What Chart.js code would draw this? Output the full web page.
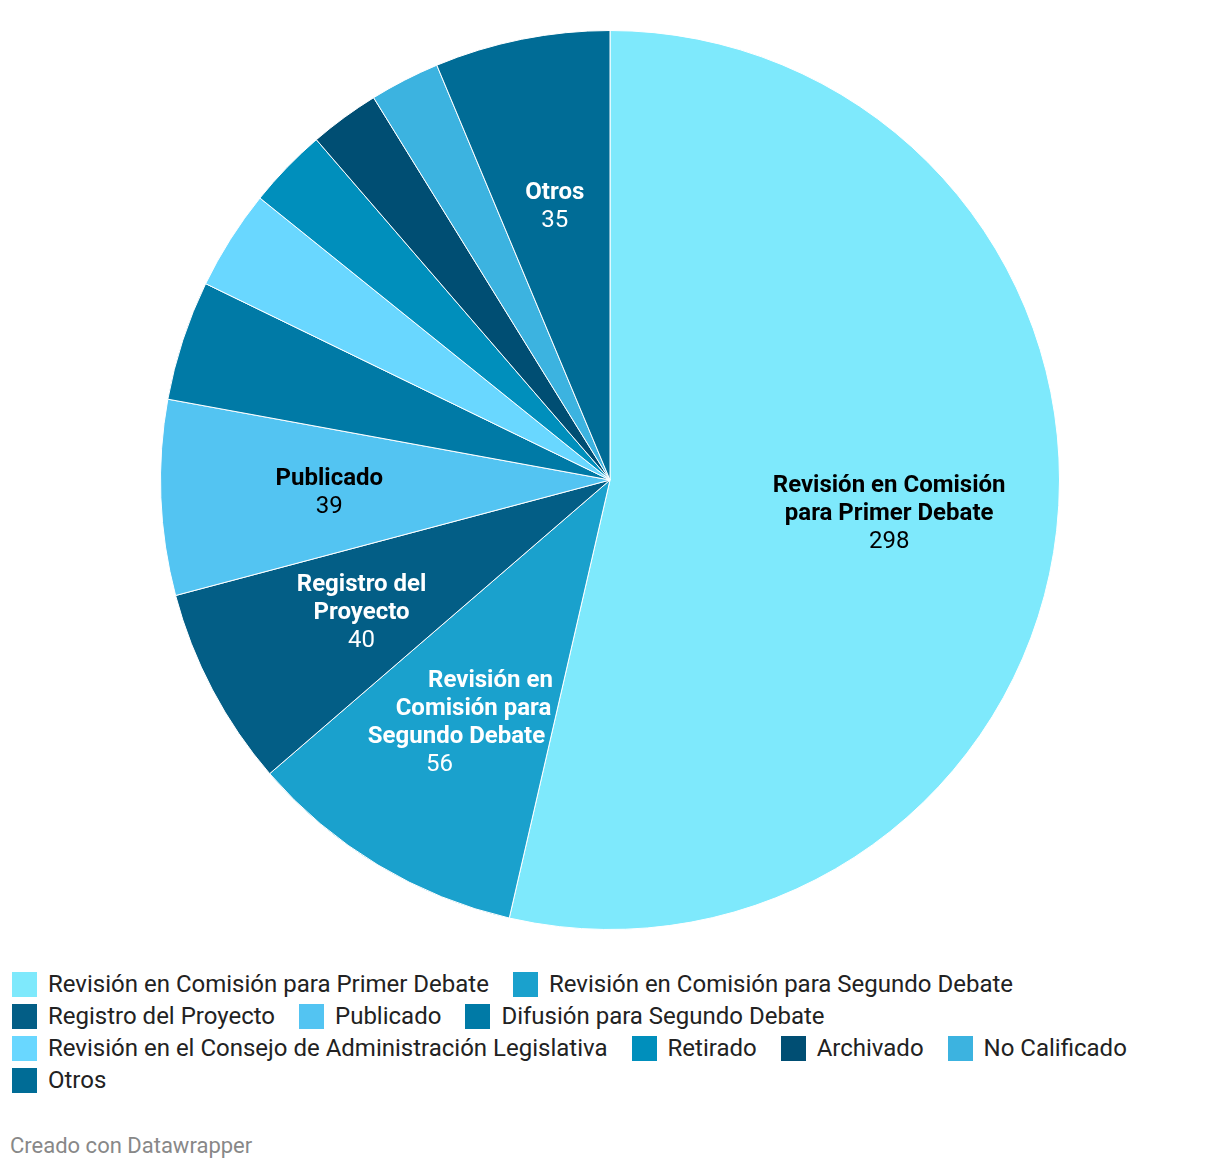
<!DOCTYPE html>
<html>
<head>
<meta charset="utf-8">
<script src="https://cdn.jsdelivr.net/npm/chart.js@4"></script>
<style>
    body { margin: 0; background: #fff; font-family: Roboto, sans-serif; }
    .wrap { width: 1220px; }
    .chart-box { position: relative; width: 1220px; height: 960px; }
    #legend { padding: 8px 0 0 12px; }
    #legend ul { list-style: none; margin: 0; padding: 0; display: flex; flex-wrap: wrap; }
    #legend li { display: flex; align-items: center; height: 32px; margin-right: 24px; font-size: 24px; color: #222; }
    #legend li span { display: inline-block; width: 25px; height: 25px; margin-right: 11px; }
    .footer { margin: 36px 0 0 10px; font-size: 22px; line-height: 28px; color: #888; }
</style>
</head>
<body>
<div class="wrap">
    <div class="chart-box"><canvas id="chart1"></canvas></div>
    <div id="legend"></div>
    <div class="footer">Creado con Datawrapper</div>
</div>
<script>
// Datos
const categorias = [
    'Revisión en Comisión para Primer Debate',
    'Revisión en Comisión para Segundo Debate',
    'Registro del Proyecto',
    'Publicado',
    'Difusión para Segundo Debate',
    'Revisión en el Consejo de Administración Legislativa',
    'Retirado',
    'Archivado',
    'No Calificado',
    'Otros'
];
const valores = [298, 56, 40, 39, 24, 20, 16, 14, 14, 35];
// etiquetas dentro del gráfico (con saltos de línea)
const etiquetas = [
    'Revisión en Comisión\npara Primer Debate',
    'Revisión en\nComisión para\nSegundo Debate',
    'Registro del\nProyecto',
    'Publicado',
    '', '', '', '', '',
    'Otros'
];
const colores = ['#7ee9fc', '#1aa1cd', '#035e86', '#53c4f2', '#007aa6', '#69d7ff', '#008fbc', '#004e73', '#3cb3e0', '#006c96'];
const colorTexto = ['#000', '#fff', '#fff', '#000', '#fff', '#000', '#fff', '#fff', '#fff', '#fff'];
// inclinación de la etiqueta (px por línea) para que quepa en el sector
const inclinacion = [0, -17, 0, 0, 0, 0, 0, 0, 0, 0];

// Etiquetas dentro de los sectores
const sliceLabels = {
    id: 'sliceLabels',
    afterDatasetsDraw(chart) {
        const ctx = chart.ctx;
        const meta = chart.getDatasetMeta(0);
        ctx.save();
        ctx.textAlign = 'center';
        ctx.textBaseline = 'middle';
        meta.data.forEach((arc, i) => {
            if (!etiquetas[i]) return;
            const mid = (arc.startAngle + arc.endAngle) / 2;
            const r = arc.outerRadius * 0.625;
            const x = arc.x + Math.cos(mid) * r;
            const y = arc.y + Math.sin(mid) * r + 2;
            const lines = etiquetas[i].split('\n');
            lines.push(String(valores[i]));
            const n = lines.length;
            const top = y - (n - 1) * 28 / 2;
            ctx.fillStyle = colorTexto[i];
            lines.forEach((l, j) => {
                ctx.font = (j < n - 1 ? 'bold ' : '') + '24px Roboto';
                const dx = (j - (n - 1) / 2) * inclinacion[i];
                ctx.fillText(l, x + dx, top + j * 28);
            });
        });
        ctx.restore();
    }
};

// Leyenda en HTML
const htmlLegend = {
    id: 'htmlLegend',
    afterUpdate(chart) {
        const box = document.getElementById('legend');
        const ul = document.createElement('ul');
        chart.data.labels.forEach((lab, i) => {
            const li = document.createElement('li');
            const sw = document.createElement('span');
            sw.style.background = chart.data.datasets[0].backgroundColor[i];
            li.appendChild(sw);
            li.appendChild(document.createTextNode(lab));
            ul.appendChild(li);
        });
        box.innerHTML = '';
        box.appendChild(ul);
    }
};

const ctx1 = document.getElementById('chart1').getContext('2d');
const chart1 = new Chart(ctx1, {
    type: 'pie',
    data: {
        labels: categorias,
        datasets: [{
            data: valores,
            backgroundColor: colores,
            borderColor: '#fff',
            borderWidth: 1
        }]
    },
    options: {
        responsive: true,
        maintainAspectRatio: false,
        animation: false,
        layout: { padding: { top: 30, bottom: 30 } },
        plugins: {
            legend: { display: false },
            tooltip: { enabled: false }
        }
    },
    plugins: [sliceLabels, htmlLegend]
});
</script>
</body>
</html>
